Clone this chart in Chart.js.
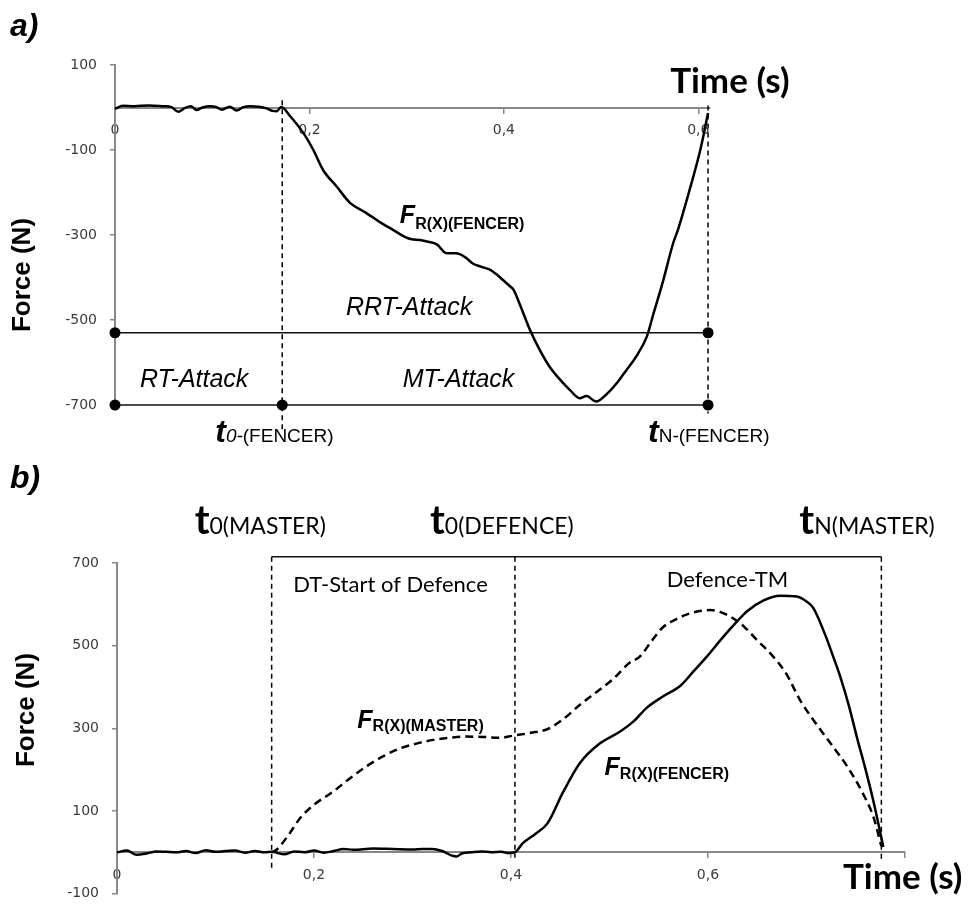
<!DOCTYPE html>
<html>
<head>
<meta charset="utf-8">
<script src="https://cdn.jsdelivr.net/npm/chart.js@4.4.0/dist/chart.umd.min.js"></script>
<style>
  body { margin: 0; background: #fff; }
  canvas { position: absolute; left: 0; }
</style>
</head>
<body>
<canvas id="chartA" width="975" height="455" style="top:0px"></canvas>
<canvas id="chartB" width="975" height="460" style="top:455px"></canvas>
<script>
// ---- panel a: fencer attack ----
var timeA = [0, 0.008, 0.02, 0.035, 0.05, 0.058, 0.065, 0.072, 0.078, 0.084, 0.09, 0.098, 0.104, 0.11, 0.118, 0.125,
  0.132, 0.139, 0.148, 0.156, 0.162, 0.166, 0.171, 0.18, 0.194, 0.204, 0.214, 0.228, 0.242, 0.259, 0.272, 0.286,
  0.297, 0.305, 0.314, 0.322, 0.331, 0.341, 0.351, 0.36, 0.368, 0.377, 0.386, 0.392, 0.399, 0.406, 0.41, 0.416,
  0.427, 0.437, 0.447, 0.458, 0.468, 0.478, 0.485, 0.495, 0.505, 0.516, 0.526, 0.536, 0.547, 0.554, 0.564, 0.574,
  0.579, 0.591, 0.602, 0.61];
var forceA = [-3, 4, 3, 5, 3, 1, -10, -1, 3, -6, 0, 3, 1, -5, 2, -7,
  1, 3, 2, -2, -8, -9, 1, -20, -61, -100, -147, -186, -225, -249, -269, -288,
  -303, -310, -312, -316, -322, -343, -343, -352, -367, -375, -382, -392, -406, -420, -429, -461,
  -524, -571, -610, -641, -665, -684, -679, -692, -676, -649, -618, -586, -539, -484, -406, -320,
  -288, -194, -100, -13];
var markTimesA = [0, 0.172, 0.61];   // 0, t0-(FENCER), tN-(FENCER)
var rrtLevelA = -530;
var baseLevelA = -700;
var dashTopA = [17, 5];
var dashBottomA = [-760, -720];
var xTicksA = [0, 0.2, 0.4, 0.6];
var xLabelsA = ['0', '0,2', '0,4', '0,6'];
var yTicksA = [100, -100, -300, -500, -700];

// ---- panel b: master vs fencer defence ----
var timeMaster = [0.157, 0.162, 0.175, 0.186, 0.2, 0.219, 0.236, 0.254, 0.27, 0.287, 0.304, 0.321, 0.338, 0.355,
  0.372, 0.389, 0.402, 0.42, 0.437, 0.453, 0.47, 0.487, 0.504, 0.52, 0.531, 0.543, 0.554, 0.566, 0.578, 0.59,
  0.602, 0.614, 0.625, 0.637, 0.65, 0.666, 0.68, 0.693, 0.707, 0.724, 0.741, 0.758, 0.768, 0.776];
var forceMaster = [0, 6, 45, 83, 115, 146, 178, 209, 232, 251, 263, 272, 277, 280,
  279, 277, 282, 289, 298, 322, 357, 388, 420, 458, 474, 512, 544, 562, 575, 583,
  586, 580, 567, 545, 513, 474, 430, 370, 320, 265, 209, 139, 85, 15];
var timeFencer = [0, 0.01, 0.02, 0.03, 0.04, 0.05, 0.06, 0.07, 0.08, 0.09, 0.1, 0.11, 0.12, 0.13, 0.14, 0.15, 0.157,
  0.17, 0.18, 0.19, 0.2, 0.21, 0.22, 0.23, 0.24, 0.26, 0.28, 0.3, 0.31, 0.32, 0.33, 0.34, 0.345, 0.35, 0.36, 0.37,
  0.38, 0.39, 0.398, 0.404, 0.412, 0.425, 0.437, 0.453, 0.47, 0.49, 0.51, 0.525, 0.538, 0.555, 0.572, 0.585, 0.599,
  0.615, 0.63, 0.64, 0.656, 0.673, 0.69, 0.7, 0.707, 0.72, 0.727, 0.734, 0.743, 0.751, 0.76, 0.768, 0.778];
var forceFencer = [0, 4, -6, -3, 2, 1, 0, 3, -2, 5, 1, 3, 4, -1, 3, 0, 1,
  -5, 2, 0, 4, -1, 3, 8, 6, 9, 8, 7, 8, 8, 3, -8, -10, -3, 0, 2,
  0, 1, -2, 0, 22, 45, 70, 146, 216, 263, 291, 318, 350, 378, 403, 437, 474,
  520, 560, 584, 609, 621, 619, 607, 591, 520, 474, 427, 355, 280, 200, 123, 13];
var markTimesB = [0.157, 0.404, 0.776];   // t0(MASTER), t0(DEFENCE), tN(MASTER)
var markLevelB = 715;
var dashBottomB = [-41, -13, -17];
var xTicksB = [0, 0.2, 0.4, 0.6, 0.8];
var xLabelsB = ['0', '0,2', '0,4', '0,6', ''];
var yTicksB = [700, 500, 300, 100, -100];

function pts(xs, ys) {
  return xs.map(function (x, i) { return { x: x, y: ys[i] }; });
}

function curve(data, dash) {
  return {
    data: data, showLine: true, borderColor: '#000', borderWidth: 2.5, borderDash: dash || [],
    pointRadius: 0, cubicInterpolationMode: 'monotone', clip: false
  };
}
function markerLine(data) {
  return {
    data: data, showLine: true, borderColor: '#111', borderWidth: 1.6,
    pointRadius: 5.5, pointBackgroundColor: '#000', pointBorderWidth: 0, clip: false
  };
}
function dashed(t, top, bottom) {
  return {
    data: [{ x: t, y: top }, { x: t, y: bottom }], showLine: true, borderColor: '#000',
    borderWidth: 1.5, borderDash: [5, 4], pointRadius: 0, clip: false
  };
}

// draw a run of differently styled text pieces from left to right
function drawRuns(ctx, x, y, runs) {
  runs.forEach(function (r) {
    ctx.font = r.font;
    ctx.fillText(r.text, x, y + (r.dy || 0));
    x += ctx.measureText(r.text).width;
  });
}

var textPlugin = {
  id: 'texts',
  afterDraw: function (chart) {
    var ctx = chart.ctx, xs = chart.scales.x, ys = chart.scales.y;
    var cfg = chart.options.plugins.texts;
    ctx.save();
    ctx.fillStyle = '#000';
    ctx.textAlign = 'left';
    ctx.textBaseline = 'alphabetic';
    cfg.labels.forEach(function (l) {
      var x = xs.getPixelForValue(l.t) + (l.dx || 0);
      var y = ys.getPixelForValue(l.v);
      drawRuns(ctx, x, y, l.runs);
    });
    // panel letter
    ctx.font = 'bold italic 32px "Liberation Sans"';
    ctx.fillText(cfg.letter, 10, cfg.letterY);
    // rotated y title
    ctx.translate(cfg.yTitleX, cfg.yTitleY);
    ctx.rotate(-Math.PI / 2);
    ctx.textAlign = 'center';
    ctx.textBaseline = 'middle';
    ctx.font = 'bold 26px "Liberation Sans"';
    ctx.fillText('Force (N)', 0, 0);
    ctx.restore();
  }
};

function axes(xMin, xMax, xTicks, xLabels, yMin, yMax, yTicks, yWidth, xPad) {
  return {
    x: {
      type: 'linear', min: xMin, max: xMax, position: { y: 0 },
      afterBuildTicks: function (s) { s.ticks = xTicks.map(function (v) { return { value: v }; }); },
      ticks: {
        callback: function (v, i) { return xLabels[i]; },
        font: { family: 'DejaVu Sans', size: 14 }, color: '#3a3a3a', padding: xPad, maxRotation: 0, autoSkip: false
      },
      grid: { drawOnChartArea: false, drawTicks: true, tickLength: 5, color: '#888', lineWidth: 1.5 },
      border: { display: true, color: '#888', width: 2 }
    },
    y: {
      type: 'linear', min: yMin, max: yMax, position: 'left',
      afterBuildTicks: function (s) { s.ticks = yTicks.map(function (v) { return { value: v }; }); },
      afterFit: function (s) { s.width = yWidth; },
      ticks: { font: { family: 'DejaVu Sans', size: 14 }, color: '#3a3a3a', padding: 13 },
      grid: { drawOnChartArea: false, drawTicks: true, tickLength: 5, color: '#888', lineWidth: 1.5 },
      border: { display: true, color: '#888', width: 2 }
    }
  };
}

var tBig = 'bold italic 32px "Liberation Sans"';
var fBig = 'bold italic 25px "Liberation Sans"';
var fSub = 'bold 16px "Liberation Sans"';
var itl = 'italic 25px "Liberation Sans"';

new Chart(document.getElementById('chartA'), {
  type: 'scatter',
  data: {
    datasets: [
      curve(pts(timeA, forceA)),
      markerLine([{ x: markTimesA[0], y: rrtLevelA }, { x: markTimesA[2], y: rrtLevelA }]),
      markerLine(markTimesA.map(function (t) { return { x: t, y: baseLevelA }; })),
      dashed(markTimesA[1], dashTopA[0], dashBottomA[0]),
      dashed(markTimesA[2], dashTopA[1], dashBottomA[1])
    ]
  },
  options: {
    responsive: false, animation: false, events: [],
    layout: { padding: { left: 55, right: 265, top: 65, bottom: 50 } },
    scales: axes(0, 0.612, xTicksA, xLabelsA, -700, 100, yTicksA, 60, 9),
    plugins: {
      legend: { display: false }, tooltip: { enabled: false },
      texts: {
        letter: 'a)', letterY: 36, yTitleX: 23, yTitleY: 275,
        labels: [
          { t: 0.2375, v: -488, runs: [{ text: 'RRT-Attack', font: itl }] },
          { t: 0.0257, v: -657, runs: [{ text: 'RT-Attack', font: itl }] },
          { t: 0.296, v: -657, runs: [{ text: 'MT-Attack', font: itl }] },
          { t: markTimesA[1], dx: -67, v: -787, runs: [
            { text: 't', font: tBig }, { text: '0-', font: 'italic 19px "Liberation Sans"' },
            { text: '(FENCER)', font: '19px "Liberation Sans"' }] },
          { t: markTimesA[2], dx: -60, v: -787, runs: [
            { text: 't', font: tBig }, { text: 'N-(FENCER)', font: '19px "Liberation Sans"' }] },
          { t: 0.293, v: -272, runs: [{ text: 'F', font: fBig }, { text: 'R(X)(FENCER)', font: fSub, dy: 6 }] },
          { t: 0.571, v: 34, runs: [{ text: 'Time (s)', font: 'bold 35px Lato' }] }
        ]
      }
    }
  },
  plugins: [textPlugin]
});

var tLato = 'bold 40px Lato';
var subLato = '23px Lato';

new Chart(document.getElementById('chartB'), {
  type: 'scatter',
  data: {
    datasets: [
      curve(pts(timeFencer, forceFencer)),
      curve(pts(timeMaster, forceMaster), [8, 5]),
      markerLine(markTimesB.map(function (t) { return { x: t, y: markLevelB }; })),
      dashed(markTimesB[0], markLevelB, dashBottomB[0]),
      dashed(markTimesB[1], markLevelB, dashBottomB[1]),
      dashed(markTimesB[2], markLevelB, dashBottomB[2])
    ]
  },
  options: {
    responsive: false, animation: false, events: [],
    layout: { padding: { left: 57, right: 70, top: 108, bottom: 10 } },
    scales: axes(0, 0.8, xTicksB, xLabelsB, -100, 700, yTicksB, 60, 10),
    plugins: {
      legend: { display: false }, tooltip: { enabled: false },
      texts: {
        letter: 'b)', letterY: 33, yTitleX: 27, yTitleY: 255,
        labels: [
          { t: markTimesB[0], dx: -77, v: 771, runs: [{ text: 't', font: tLato }, { text: '0(MASTER)', font: subLato }] },
          { t: markTimesB[1], dx: -85, v: 771, runs: [{ text: 't', font: tLato }, { text: '0(DEFENCE)', font: subLato }] },
          { t: markTimesB[2], dx: -82, v: 771, runs: [{ text: 't', font: tLato }, { text: 'N(MASTER)', font: subLato }] },
          { t: 0.179, v: 631, runs: [{ text: 'DT-Start of Defence', font: '22px Lato' }] },
          { t: 0.558, v: 643, runs: [{ text: 'Defence-TM', font: '22px Lato' }] },
          { t: 0.244, v: 301, runs: [{ text: 'F', font: fBig }, { text: 'R(X)(MASTER)', font: fSub, dy: 3 }] },
          { t: 0.495, v: 186, runs: [{ text: 'F', font: fBig }, { text: 'R(X)(FENCER)', font: fSub, dy: 4 }] },
          { t: 0.737, v: -88, runs: [{ text: 'Time (s)', font: 'bold 35px Lato' }] }
        ]
      }
    }
  },
  plugins: [textPlugin]
});
</script>
</body>
</html>
